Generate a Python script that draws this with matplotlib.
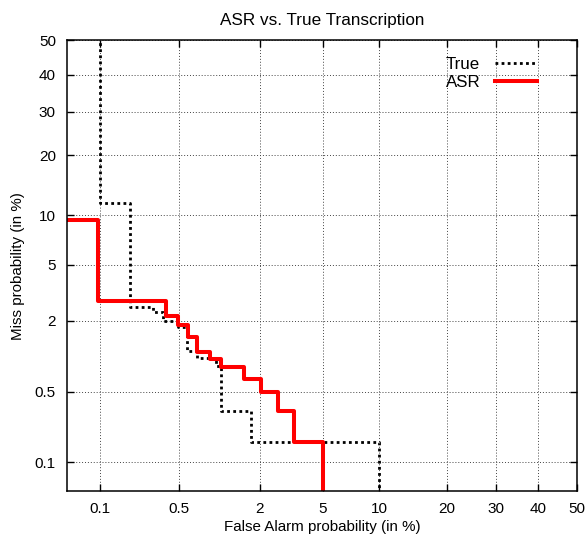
from statistics import NormalDist
import numpy as np
import matplotlib
matplotlib.use("Agg")
import matplotlib.pyplot as plt

plt.rcParams["font.family"] = ["Liberation Sans", "DejaVu Sans"]

# DET operating points, both axes in percent
asr_fa = [0.04, 0.095, 0.387, 0.49, 0.59, 0.687, 0.87, 1.06, 1.56, 2.03, 2.64, 3.33, 5.0]
asr_miss = [9.37, 2.80, 2.18, 1.85, 1.49, 1.125, 0.97, 0.83, 0.66, 0.495, 0.33, 0.164, 0.01]

true_fa = [0.1, 0.19, 0.30, 0.366, 0.487, 0.575, 0.69, 0.967, 1.06, 1.75, 10.0, 10.0]
true_miss = [60.0, 11.6, 2.52, 2.31, 1.99, 1.78, 1.14, 0.99, 0.85, 0.33, 0.164, 0.01]

ticks = [0.1, 0.5, 2, 5, 10, 20, 30, 40, 50]
tick_labels = ["0.1", "0.5", "2", "5", "10", "20", "30", "40", "50"]

_nd = NormalDist()
_ppf = np.vectorize(_nd.inv_cdf, otypes=[float])
_cdf = np.vectorize(_nd.cdf, otypes=[float])


def probit(p):
    p = np.clip(np.asarray(p, dtype=float) / 100.0, 1e-7, 1 - 1e-7)
    return _ppf(p)


def inv_probit(z):
    return _cdf(np.asarray(z, dtype=float)) * 100.0


fig = plt.figure(figsize=(5.88, 5.35), dpi=100)
ax = fig.add_axes([0.114, 0.082, 0.867, 0.843])

ax.set_xscale("function", functions=(probit, inv_probit))
ax.set_yscale("function", functions=(probit, inv_probit))

ax.step(true_fa, true_miss, where="pre", color="black", lw=2.0,
        linestyle=(0, (1.0, 1.2)), label="True")
ax.step(asr_fa, asr_miss, where="post", color="#ff0000", lw=2.9, label="ASR")

ax.set_xlim(0.0477, 50)
ax.set_ylim(0.048, 50)
ax.set_xticks(ticks)
ax.set_xticklabels(tick_labels)
ax.set_yticks(ticks)
ax.set_yticklabels(tick_labels)
ax.minorticks_off()

ax.grid(True, color="#444444", lw=0.7, linestyle=(0, (1, 2)))
ax.tick_params(direction="in", length=5, width=1, top=True, right=True,
               labelsize=11, pad=8)
for s in ax.spines.values():
    s.set_linewidth(1.1)

ax.set_title("ASR vs. True Transcription", fontsize=12.3, pad=11)
ax.set_xlabel("False Alarm probability (in %)", fontsize=10.9, labelpad=3)
ax.set_ylabel("Miss probability (in %)", fontsize=10.9, labelpad=7)

ax.legend(loc="upper right", bbox_to_anchor=(0.935, 0.978), frameon=False,
          markerfirst=False, handlelength=2.45, labelspacing=0.2,
          handletextpad=0.9, fontsize=12.2, borderaxespad=0)

fig.savefig("out.png", dpi=100)
